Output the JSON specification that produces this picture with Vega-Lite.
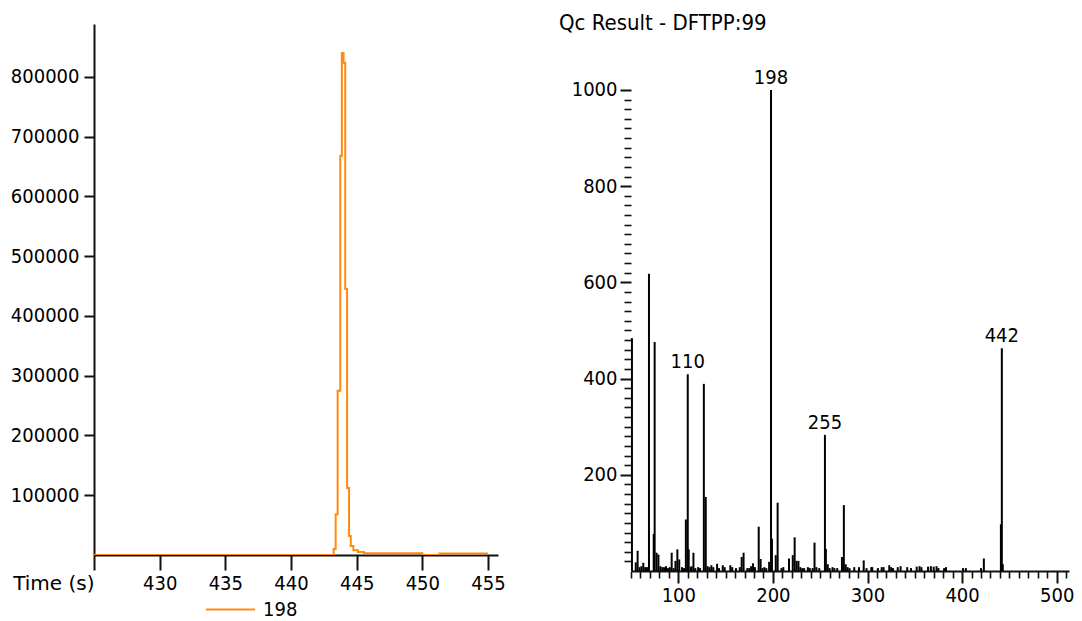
{
  "$schema": "https://vega.github.io/schema/vega-lite/v6.json",
  "background": "white",
  "padding": {"left": 10, "top": 12, "right": 5, "bottom": 0},
  "spacing": 133,
  "bounds": "flush",
  "config": {
    "font": "DejaVu Sans Condensed",
    "view": {"stroke": null},
    "axis": {
      "domainColor": "#111111", "domainWidth": 2, "tickColor": "#111111", "tickWidth": 2,
      "labelColor": "#000000", "labelFont": "DejaVu Sans Condensed", "labelFontSize": 20,
      "grid": false, "labelOverlap": false, "labelFlush": false
    },
    "legend": {"labelFont": "DejaVu Sans Condensed"}
  },
  "datasets": {
    "chrom": [
      {"time": 425, "intensity": 0, "ion": "198"},
      {"time": 443.25, "intensity": 10000, "ion": "198"},
      {"time": 443.4, "intensity": 68000, "ion": "198"},
      {"time": 443.55, "intensity": 275000, "ion": "198"},
      {"time": 443.75, "intensity": 668000, "ion": "198"},
      {"time": 443.87, "intensity": 840000, "ion": "198"},
      {"time": 444.0, "intensity": 824000, "ion": "198"},
      {"time": 444.13, "intensity": 445000, "ion": "198"},
      {"time": 444.27, "intensity": 112000, "ion": "198"},
      {"time": 444.42, "intensity": 32000, "ion": "198"},
      {"time": 444.55, "intensity": 15000, "ion": "198"},
      {"time": 444.75, "intensity": 8000, "ion": "198"},
      {"time": 445.1, "intensity": 5000, "ion": "198"},
      {"time": 445.55, "intensity": 3000, "ion": "198"},
      {"time": 450.0, "intensity": 0, "ion": "198"},
      {"time": 451.3, "intensity": 2500, "ion": "198"},
      {"time": 455.0, "intensity": 2500, "ion": "198"}
    ],
    "spectrum": [
      {"mz": 51, "abundance": 484}, {"mz": 55, "abundance": 18}, {"mz": 57, "abundance": 42},
      {"mz": 59, "abundance": 8}, {"mz": 61, "abundance": 10}, {"mz": 63, "abundance": 17},
      {"mz": 65, "abundance": 8}, {"mz": 67, "abundance": 8}, {"mz": 69, "abundance": 618},
      {"mz": 74, "abundance": 77}, {"mz": 75, "abundance": 476}, {"mz": 77, "abundance": 38},
      {"mz": 79, "abundance": 34}, {"mz": 81, "abundance": 10}, {"mz": 83, "abundance": 8},
      {"mz": 85, "abundance": 8}, {"mz": 87, "abundance": 10}, {"mz": 89, "abundance": 6},
      {"mz": 91, "abundance": 8}, {"mz": 93, "abundance": 38}, {"mz": 95, "abundance": 6},
      {"mz": 97, "abundance": 21}, {"mz": 99, "abundance": 45}, {"mz": 101, "abundance": 24},
      {"mz": 104, "abundance": 8}, {"mz": 106, "abundance": 6}, {"mz": 108, "abundance": 107},
      {"mz": 110, "abundance": 409}, {"mz": 111, "abundance": 45}, {"mz": 113, "abundance": 8},
      {"mz": 114, "abundance": 10}, {"mz": 116, "abundance": 38}, {"mz": 118, "abundance": 6},
      {"mz": 121, "abundance": 8}, {"mz": 123, "abundance": 6}, {"mz": 127, "abundance": 389},
      {"mz": 129, "abundance": 154}, {"mz": 131, "abundance": 10}, {"mz": 133, "abundance": 8},
      {"mz": 135, "abundance": 12}, {"mz": 137, "abundance": 8}, {"mz": 141, "abundance": 15},
      {"mz": 143, "abundance": 6}, {"mz": 147, "abundance": 12}, {"mz": 149, "abundance": 8},
      {"mz": 155, "abundance": 12}, {"mz": 157, "abundance": 8}, {"mz": 161, "abundance": 6},
      {"mz": 165, "abundance": 8}, {"mz": 167, "abundance": 29}, {"mz": 169, "abundance": 38},
      {"mz": 173, "abundance": 6}, {"mz": 175, "abundance": 6}, {"mz": 177, "abundance": 10},
      {"mz": 179, "abundance": 16}, {"mz": 181, "abundance": 8}, {"mz": 185, "abundance": 92},
      {"mz": 187, "abundance": 25}, {"mz": 189, "abundance": 6}, {"mz": 191, "abundance": 8},
      {"mz": 193, "abundance": 6}, {"mz": 196, "abundance": 19}, {"mz": 198, "abundance": 1000},
      {"mz": 199, "abundance": 67}, {"mz": 203, "abundance": 33}, {"mz": 205, "abundance": 142},
      {"mz": 209, "abundance": 6}, {"mz": 211, "abundance": 8}, {"mz": 217, "abundance": 26},
      {"mz": 221, "abundance": 33}, {"mz": 223, "abundance": 70}, {"mz": 225, "abundance": 21},
      {"mz": 227, "abundance": 21}, {"mz": 229, "abundance": 8}, {"mz": 231, "abundance": 6},
      {"mz": 233, "abundance": 6}, {"mz": 237, "abundance": 8}, {"mz": 239, "abundance": 6},
      {"mz": 242, "abundance": 6}, {"mz": 244, "abundance": 59}, {"mz": 246, "abundance": 8},
      {"mz": 249, "abundance": 6}, {"mz": 255, "abundance": 283}, {"mz": 256, "abundance": 46},
      {"mz": 258, "abundance": 14}, {"mz": 260, "abundance": 6}, {"mz": 263, "abundance": 8},
      {"mz": 265, "abundance": 6}, {"mz": 268, "abundance": 6}, {"mz": 273, "abundance": 29},
      {"mz": 275, "abundance": 137}, {"mz": 277, "abundance": 14}, {"mz": 279, "abundance": 8},
      {"mz": 281, "abundance": 6}, {"mz": 286, "abundance": 8}, {"mz": 291, "abundance": 8},
      {"mz": 296, "abundance": 22}, {"mz": 299, "abundance": 6}, {"mz": 304, "abundance": 8},
      {"mz": 305, "abundance": 8}, {"mz": 311, "abundance": 6}, {"mz": 315, "abundance": 8},
      {"mz": 317, "abundance": 8}, {"mz": 323, "abundance": 12}, {"mz": 325, "abundance": 8},
      {"mz": 327, "abundance": 6}, {"mz": 332, "abundance": 8}, {"mz": 335, "abundance": 10},
      {"mz": 342, "abundance": 8}, {"mz": 346, "abundance": 6}, {"mz": 352, "abundance": 9},
      {"mz": 355, "abundance": 10}, {"mz": 357, "abundance": 8}, {"mz": 364, "abundance": 9},
      {"mz": 367, "abundance": 10}, {"mz": 370, "abundance": 9}, {"mz": 373, "abundance": 10},
      {"mz": 375, "abundance": 6}, {"mz": 381, "abundance": 6}, {"mz": 383, "abundance": 8},
      {"mz": 401, "abundance": 6}, {"mz": 404, "abundance": 6}, {"mz": 420, "abundance": 6},
      {"mz": 423, "abundance": 26}, {"mz": 441, "abundance": 97}, {"mz": 442, "abundance": 463},
      {"mz": 443, "abundance": 14}
    ],
    "labels": [
      {"mz": 110, "abundance": 409},
      {"mz": 198, "abundance": 1000},
      {"mz": 255, "abundance": 283},
      {"mz": 442, "abundance": 463}
    ]
  },
  "hconcat": [
    {
      "width": 404,
      "height": 531,
      "data": {"name": "chrom"},
      "mark": {"type": "line", "interpolate": "step-after", "strokeWidth": 2, "clip": true},
      "encoding": {
        "x": {
          "field": "time", "type": "quantitative",
          "scale": {"domain": [425, 455.76], "nice": false, "zero": false},
          "axis": {
            "title": null, "values": [425, 430, 435, 440, 445, 450, 455],
            "tickSize": 15, "labelPadding": 3,
            "labelExpr": "datum.value == 425 ? 'Time (s)' : datum.label",
            "labelFont": {"condition": {"test": "datum.value == 425", "value": "DejaVu Sans"}, "value": "DejaVu Sans Condensed"},
            "labelAlign": {"condition": {"test": "datum.value == 425", "value": "right"}, "value": "center"}
          }
        },
        "y": {
          "field": "intensity", "type": "quantitative",
          "scale": {"domain": [0, 888700], "nice": false},
          "axis": {
            "title": null, "format": "d", "tickSize": 10, "labelPadding": 5,
            "values": [100000, 200000, 300000, 400000, 500000, 600000, 700000, 800000]
          }
        },
        "color": {
          "field": "ion", "type": "nominal",
          "scale": {"range": ["#ff8a10"]},
          "legend": {
            "orient": "none", "legendX": 111, "legendY": 560, "title": null,
            "direction": "horizontal", "symbolType": "stroke", "symbolSize": 2401,
            "symbolStrokeWidth": 2, "labelFontSize": 20, "labelColor": "#000000",
            "labelOffset": 7, "padding": 0
          }
        }
      }
    },
    {
      "width": 438,
      "height": 547,
      "title": {
        "text": "Qc Result - DFTPP:99", "anchor": "start", "frame": "group",
        "dx": -72, "offset": -11, "fontSize": 22, "fontWeight": "normal",
        "color": "#000000", "font": "DejaVu Sans Condensed"
      },
      "layer": [
        {
          "data": {"name": "spectrum"},
          "mark": {"type": "rule", "strokeWidth": 2, "color": "#000000"},
          "encoding": {
            "x": {
              "field": "mz", "type": "quantitative",
              "scale": {"domain": [50, 513], "nice": false, "zero": false},
              "axis": {"title": null, "orient": "bottom", "values": [100, 200, 300, 400, 500], "tickSize": 12, "labelPadding": 2}
            },
            "y": {
              "field": "abundance", "type": "quantitative",
              "scale": {"domain": [0, 1137], "nice": false},
              "axis": {"title": null, "orient": "left", "domain": false, "format": "d", "values": [200, 400, 600, 800, 1000], "tickSize": 11, "labelPadding": 3}
            },
            "y2": {"datum": 0}
          }
        },
        {
          "data": {"name": "labels"},
          "mark": {"type": "text", "baseline": "bottom", "dy": -2, "fontSize": 20, "color": "#000000", "font": "DejaVu Sans Condensed"},
          "encoding": {
            "x": {
              "field": "mz", "type": "quantitative",
              "axis": {
                "title": null, "orient": "bottom", "labels": false, "domain": false, "tickSize": 7, "tickWidth": 1.6,
                "values": [50, 60, 70, 80, 90, 110, 120, 130, 140, 150, 160, 170, 180, 190, 210, 220, 230, 240, 250, 260, 270, 280, 290, 310, 320, 330, 340, 350, 360, 370, 380, 390, 410, 420, 430, 440, 450, 460, 470, 480, 490, 510]
              }
            },
            "y": {
              "field": "abundance", "type": "quantitative",
              "axis": {
                "title": null, "orient": "left", "labels": false, "domain": false, "tickSize": 7, "tickWidth": 1.6,
                "values": [20, 40, 60, 80, 100, 120, 140, 160, 180, 220, 240, 260, 280, 300, 320, 340, 360, 380, 420, 440, 460, 480, 500, 520, 540, 560, 580, 620, 640, 660, 680, 700, 720, 740, 760, 780, 820, 840, 860, 880, 900, 920, 940, 960, 980]
              }
            },
            "text": {"field": "mz", "type": "quantitative"}
          }
        },
        {
          "mark": {"type": "rule", "strokeWidth": 2, "color": "#111111"},
          "encoding": {
            "x": {"datum": 50, "axis": null},
            "y": {"datum": 0, "axis": null},
            "y2": {"datum": 1000}
          }
        }
      ],
      "resolve": {"axis": {"x": "independent", "y": "independent"}}
    }
  ]
}
